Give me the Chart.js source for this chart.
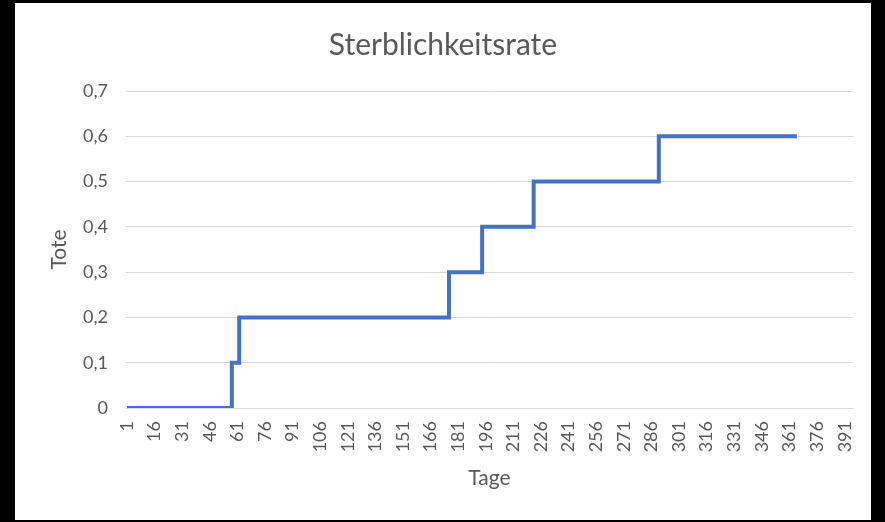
<!DOCTYPE html>
<html>
<head>
<meta charset="utf-8">
<script src="https://cdn.jsdelivr.net/npm/chart.js@4/dist/chart.umd.min.js"></script>
<style>
  html, body { margin: 0; padding: 0; background: #000; }
  #box {
    position: absolute; left: 15px; top: 3px;
    width: 856px; height: 517px; background: #fff;
  }
</style>
</head>
<body>
<div id="box"><canvas id="chart"></canvas></div>
<script>
// Tage, an denen sich die Rate ändert (Treppenstufen), und der neue Wert
const stepDays = [1, 58, 62, 176, 194, 222, 290, 365];
const stepRates = [0, 0.1, 0.2, 0.3, 0.4, 0.5, 0.6, 0.6];
// Beschriftungen der x-Achse (jeder 15. Tag)
const dayTicks = [1, 16, 31, 46, 61, 76, 91, 106, 121, 136, 151, 166, 181, 196,
  211, 226, 241, 256, 271, 286, 301, 316, 331, 346, 361, 376, 391];
const rateTicks = [0, 0.1, 0.2, 0.3, 0.4, 0.5, 0.6, 0.7];

const grey = '#595959';
const fontFamily = 'Lato, "Open Sans", sans-serif';

const points = stepDays.map((d, i) => ({ x: d, y: stepRates[i] }));

new Chart(document.getElementById('chart'), {
  type: 'line',
  data: {
    datasets: [{
      data: points,
      borderColor: '#4472C4',
      borderWidth: 4,
      pointRadius: 0,
      stepped: true,
      fill: false
    }]
  },
  options: {
    responsive: true,
    maintainAspectRatio: false,
    animation: false,
    layout: { padding: { left: 18, right: 18, top: 0, bottom: 0 } },
    plugins: {
      legend: { display: false },
      tooltip: { enabled: false },
      title: {
        display: true,
        text: 'Sterblichkeitsrate',
        color: grey,
        font: { family: fontFamily, size: 30, weight: 'normal' },
        padding: { top: 24, bottom: 28 }
      }
    },
    scales: {
      x: {
        type: 'linear',
        min: 0.5,
        max: 395.5,
        afterBuildTicks: (scale) => {
          scale.ticks = dayTicks.map((v) => ({ value: v }));
        },
        afterFit: (scale) => {
          scale.height = 112;
          // gedrehte Beschriftungen sollen die Zeichenfläche nicht verkleinern
          scale.paddingLeft = 0;
          scale.paddingRight = 0;
        },
        grid: { display: false, drawTicks: false },
        border: { display: false },
        ticks: {
          autoSkip: false,
          minRotation: 90,
          maxRotation: 90,
          padding: 13,
          color: grey,
          font: { family: fontFamily, size: 18 },
          callback: (v) => String(v)
        },
        title: {
          display: true,
          text: 'Tage',
          color: grey,
          font: { family: fontFamily, size: 21 },
          padding: { top: 0, bottom: 29 }
        }
      },
      y: {
        min: 0,
        max: 0.7,
        afterBuildTicks: (scale) => {
          scale.ticks = rateTicks.map((v) => ({ value: v }));
        },
        afterFit: (scale) => { scale.width = 93; },
        grid: { color: '#d9d9d9', lineWidth: 1, drawTicks: false },
        border: { display: false },
        ticks: {
          padding: 18,
          color: grey,
          font: { family: fontFamily, size: 18 },
          callback: (v) => (v === 0 ? '0' : v.toFixed(1).replace('.', ','))
        },
        title: {
          display: true,
          text: 'Tote',
          color: grey,
          font: { family: fontFamily, size: 21 },
          padding: { top: 14, bottom: 0 }
        }
      }
    }
  }
});
</script>
</body>
</html>
